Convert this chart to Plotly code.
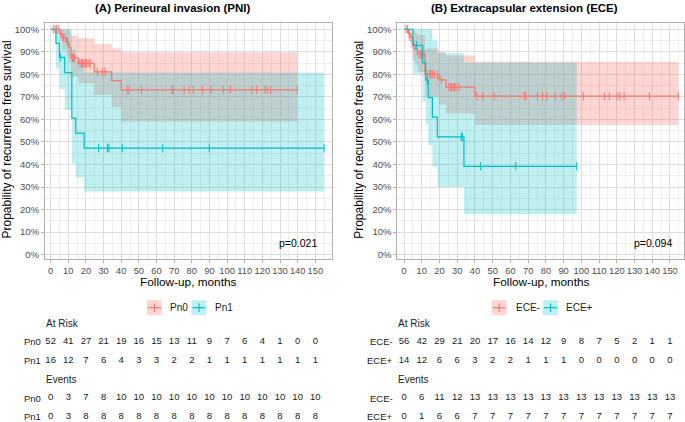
import plotly.graph_objects as go

W, H = 685, 422
FONT = "Liberation Sans, Arial, sans-serif"
RED, CYAN = "#F8766D", "#00BFC4"
RED_FILL, CYAN_FILL = "rgba(248,118,109,0.30)", "rgba(0,191,196,0.25)"

# ---------------- Panel A : PNI ----------------
pn0_time = [0, 5.3, 6.6, 9.1, 10.4, 11.5, 15.7, 24.7, 34.6, 40.0]
pn0_surv = [1.0, 0.981, 0.962, 0.942, 0.919, 0.873, 0.849, 0.811, 0.772, 0.731]
pn0_upper = [1.0, 1.0, 1.0, 1.0, 0.99, 0.97, 0.96, 0.935, 0.915, 0.898]
pn0_lower = [1.0, 0.945, 0.91, 0.88, 0.85, 0.79, 0.76, 0.71, 0.655, 0.59]
pn0_end = 139.8
pn0_cens_t = [1.5, 2.5, 3.4, 4.3, 5.8, 7.2, 8.3, 9.6, 12.2, 12.6, 13.0, 13.8,
              16.6, 17.5, 18.2, 19.0, 19.6, 20.4, 21.7, 22.5, 26.4, 29.3, 30.8,
              43.3, 44.4, 51.6, 68.6, 69.5, 75.7, 78.4, 80.8, 86.0, 90.9, 97.8,
              101.8, 114.0, 116.8, 121.5, 122.8, 124.7, 139.8]
pn0_cens_s = [1.0, 1.0, 1.0, 1.0, 0.981, 0.962, 0.962, 0.942, 0.873, 0.873, 0.873, 0.873,
              0.849, 0.849, 0.849, 0.849, 0.849, 0.849, 0.849, 0.849, 0.811, 0.811, 0.811,
              0.731, 0.731, 0.731, 0.731, 0.731, 0.731, 0.731, 0.731, 0.731, 0.731, 0.731,
              0.731, 0.731, 0.731, 0.731, 0.731, 0.731, 0.731]

pn1_time = [0, 3.0, 5.0, 8.0, 12.0, 14.2, 19.0]
pn1_surv = [1.0, 0.9375, 0.875, 0.808, 0.606, 0.539, 0.473]
pn1_upper = [1.0, 1.0, 1.0, 1.0, 0.91, 0.86, 0.808]
pn1_lower = [1.0, 0.826, 0.734, 0.642, 0.405, 0.342, 0.28]
pn1_end = 155.0
pn1_cens_t = [5.5, 27.2, 32.2, 33.1, 40.6, 63.5, 89.9, 155.0]
pn1_cens_s = [0.875, 0.473, 0.473, 0.473, 0.473, 0.473, 0.473, 0.473]

# ---------------- Panel B : ECE ----------------
ecen_time = [0, 2.4, 3.4, 4.9, 6.2, 7.5, 11.8, 19.6, 23.7, 40.0]
ecen_surv = [1.0, 0.982, 0.964, 0.929, 0.911, 0.889, 0.800, 0.775, 0.743, 0.703]
ecen_upper = [1.0, 1.0, 1.0, 0.995, 0.985, 0.975, 0.915, 0.90, 0.883, 0.856]
ecen_lower = [1.0, 0.947, 0.915, 0.86, 0.842, 0.81, 0.70, 0.666, 0.626, 0.575]
ecen_end = 154.7
ecen_cens_t = [1.1, 2.0, 2.9, 3.9, 5.5, 8.5, 9.4, 9.8, 10.3, 11.3, 13.2, 14.5, 15.3, 16.2,
               17.1, 18.8, 21.0, 25.2, 26.3, 26.8, 27.8, 28.5, 29.3, 31.0,
               41.0, 44.4, 50.8, 67.9, 68.8, 75.2, 78.2, 80.5, 85.2, 88.9, 90.5,
               101.1, 113.0, 115.8, 120.3, 121.8, 124.1, 138.4, 154.7]
ecen_cens_s = [1.0, 1.0, 0.982, 0.964, 0.929, 0.889, 0.889, 0.889, 0.889, 0.889, 0.80, 0.80, 0.80, 0.80,
               0.80, 0.80, 0.775, 0.743, 0.743, 0.743, 0.743, 0.743, 0.743, 0.743,
               0.703, 0.703, 0.703, 0.703, 0.703, 0.703, 0.703, 0.703, 0.703, 0.703, 0.703,
               0.703, 0.703, 0.703, 0.703, 0.703, 0.703, 0.703, 0.703]

ecep_time = [0, 5.0, 10.5, 12.2, 13.7, 16.0, 18.8, 33.8]
ecep_surv = [1.0, 0.929, 0.851, 0.774, 0.697, 0.610, 0.523, 0.392]
ecep_upper = [1.0, 1.0, 1.0, 1.0, 1.0, 0.95, 0.893, 0.853]
ecep_lower = [1.0, 0.80, 0.68, 0.578, 0.487, 0.39, 0.30, 0.18]
ecep_end = 97.4
ecep_cens_t = [7.1, 13.2, 32.2, 32.9, 43.2, 63.0, 97.4]
ecep_cens_s = [0.929, 0.774, 0.523, 0.523, 0.392, 0.392, 0.392]

# ---------------- Risk tables ----------------
table_times = [0, 10, 20, 30, 40, 50, 60, 70, 80, 90, 100, 110, 120, 130, 140, 150]
pn0_risk = [52, 41, 27, 21, 19, 16, 15, 13, 11, 9, 7, 6, 4, 1, 0, 0]
pn1_risk = [16, 12, 7, 6, 4, 3, 3, 2, 2, 1, 1, 1, 1, 1, 1, 1]
pn0_events = [0, 3, 7, 8, 10, 10, 10, 10, 10, 10, 10, 10, 10, 10, 10, 10]
pn1_events = [0, 3, 8, 8, 8, 8, 8, 8, 8, 8, 8, 8, 8, 8, 8, 8]
ecen_risk = [56, 42, 29, 21, 20, 17, 16, 14, 12, 9, 8, 7, 5, 2, 1, 1]
ecep_risk = [14, 12, 6, 6, 3, 2, 2, 1, 1, 1, 0, 0, 0, 0, 0, 0]
ecen_events = [0, 6, 11, 12, 13, 13, 13, 13, 13, 13, 13, 13, 13, 13, 13, 13]
ecep_events = [0, 1, 6, 6, 7, 7, 7, 7, 7, 7, 7, 7, 7, 7, 7, 7]

x_ticks = [0, 10, 20, 30, 40, 50, 60, 70, 80, 90, 100, 110, 120, 130, 140, 150]
y_ticks = [0, 0.1, 0.2, 0.3, 0.4, 0.5, 0.6, 0.7, 0.8, 0.9, 1.0]

panels = [
    dict(xa="x", ya="y", tx="x3", ty="y3", off=0.0,
         title="<b>(A) Perineural invasion (PNI)</b>", pval="p=0.021",
         groups=[("Pn0", pn0_time, pn0_surv, pn0_upper, pn0_lower, pn0_end, pn0_cens_t, pn0_cens_s, pn0_risk, pn0_events, RED, RED_FILL),
                 ("Pn1", pn1_time, pn1_surv, pn1_upper, pn1_lower, pn1_end, pn1_cens_t, pn1_cens_s, pn1_risk, pn1_events, CYAN, CYAN_FILL)],
         xrange=[-3.2, 159.3], dom=[45, 331.7],
         legend=[147, 168, 191.5, 213]),
    dict(xa="x2", ya="y2", tx="x4", ty="y4", off=352.3,
         title="<b>(B) Extracapsular extension (ECE)</b>", pval="p=0.094",
         groups=[("ECE-", ecen_time, ecen_surv, ecen_upper, ecen_lower, ecen_end, ecen_cens_t, ecen_cens_s, ecen_risk, ecen_events, RED, RED_FILL),
                 ("ECE+", ecep_time, ecep_surv, ecep_upper, ecep_lower, ecep_end, ecep_cens_t, ecep_cens_s, ecep_risk, ecep_events, CYAN, CYAN_FILL)],
         xrange=[-3.8, 157.9], dom=[397.3, 684.0],
         legend=[491.7, 514, 543, 564]),
]

fig = go.Figure()
annotations, shapes = [], []

def px_x(p):
    return p / W

def px_y(p):
    return (H - p) / H

# table rows: row index r -> pixel 323.3 + r*18.68
ROW0, ROWH = 323.3, 18.68
TBL_TOP, TBL_BOT = 317.0, 422.0
tbl_range = [(TBL_BOT - ROW0) / ROWH, (TBL_TOP - ROW0) / ROWH]

layout_axes = {}
for P in panels:
    xa, ya = P["xa"], P["ya"]
    # bands
    for g in P["groups"]:
        name, t, s, up, lo, end, ct, cs, rk, ev, col, fill = g
        fig.add_trace(go.Scatter(x=t + [end], y=up + [up[-1]], xaxis=xa, yaxis=ya, mode="lines",
                                 line=dict(width=0, shape="hv", color=fill), showlegend=False, hoverinfo="skip"))
        fig.add_trace(go.Scatter(x=t + [end], y=lo + [lo[-1]], xaxis=xa, yaxis=ya, mode="lines",
                                 line=dict(width=0, shape="hv", color=fill), fill="tonexty", fillcolor=fill,
                                 showlegend=False, hoverinfo="skip"))
    for g in P["groups"]:
        name, t, s, up, lo, end, ct, cs, rk, ev, col, fill = g
        fig.add_trace(go.Scatter(x=t + [end], y=s + [s[-1]], xaxis=xa, yaxis=ya, mode="lines",
                                 line=dict(width=1.2, shape="hv", color=col), showlegend=False))
        fig.add_trace(go.Scatter(x=ct, y=cs, xaxis=xa, yaxis=ya, mode="markers",
                                 marker=dict(symbol="line-ns", size=6, line=dict(width=1.0, color=col), color=col),
                                 showlegend=False))
    # tables
    for i, g in enumerate(P["groups"]):
        name, t, s, up, lo, end, ct, cs, rk, ev, col, fill = g
        fig.add_trace(go.Scatter(x=table_times, y=[1 + i] * len(table_times), text=[str(v) for v in rk],
                                 mode="text", textfont=dict(size=9.5, color="#1a1a1a", family=FONT),
                                 xaxis=P["tx"], yaxis=P["ty"], showlegend=False, cliponaxis=False))
        fig.add_trace(go.Scatter(x=table_times, y=[4 + i] * len(table_times), text=[str(v) for v in ev],
                                 mode="text", textfont=dict(size=9.5, color="#1a1a1a", family=FONT),
                                 xaxis=P["tx"], yaxis=P["ty"], showlegend=False, cliponaxis=False))
        for r in (1 + i, 4 + i):
            annotations.append(dict(text=name, xref="paper", yref=P["ty"], x=px_x(P["dom"][0] - 2.5), y=r,
                                    xanchor="right", yanchor="middle", showarrow=False,
                                    font=dict(size=9.5, color="#1a1a1a", family=FONT)))
    for r, lab in ((0, "At Risk"), (3, "Events")):
        annotations.append(dict(text=lab, xref="paper", yref=P["ty"], x=px_x(P["dom"][0] - 1), y=r,
                                xanchor="left", yanchor="middle", showarrow=False,
                                font=dict(size=10, color="#1a1a1a", family=FONT)))

    dom = [P["dom"][0] / W, P["dom"][1] / W]
    ydom = [px_y(259.0), px_y(22.7)]
    common_x = dict(domain=dom, range=P["xrange"], tickmode="array", tickvals=x_ticks, tickangle=0,
                    showgrid=True, gridcolor="#DEDEDE", gridwidth=1, zeroline=False,
                    showline=True, linecolor="#B0B0B0", linewidth=1, mirror=True,
                    ticks="outside", ticklen=3, tickcolor="#B0B0B0",
                    tickfont=dict(size=9.3, color="#4D4D4D", family=FONT),
                    minor=dict(tickmode="linear", tick0=5, dtick=10, showgrid=True, gridcolor="#EFEFEF", gridwidth=1),
                    automargin=False)
    common_y = dict(domain=ydom, range=[-0.019, 1.029], tickmode="array", tickvals=y_ticks,
                    tickformat=".0%", showgrid=True, gridcolor="#DEDEDE", gridwidth=1, zeroline=False,
                    showline=True, linecolor="#B0B0B0", linewidth=1, mirror=True,
                    ticks="outside", ticklen=3, tickcolor="#B0B0B0",
                    tickfont=dict(size=9.5, color="#4D4D4D", family=FONT),
                    minor=dict(tickmode="linear", tick0=0.05, dtick=0.1, showgrid=True, gridcolor="#EFEFEF", gridwidth=1),
                    automargin=False)
    xkey = "xaxis" if xa == "x" else "xaxis" + xa[1:]
    ykey = "yaxis" if ya == "y" else "yaxis" + ya[1:]
    layout_axes[xkey] = dict(common_x, anchor=ya)
    layout_axes[ykey] = dict(common_y, anchor=xa)
    layout_axes["xaxis" + P["tx"][1:]] = dict(domain=dom, range=P["xrange"], visible=False, anchor=P["ty"])
    layout_axes["yaxis" + P["ty"][1:]] = dict(domain=[0, px_y(TBL_TOP)], range=tbl_range, visible=False, anchor=P["tx"])

    off = P["off"]
    annotations.append(dict(text=P["title"], xref="paper", yref="paper", x=px_x(172.5 + off), y=px_y(8.0),
                            xanchor="center", yanchor="middle", showarrow=False,
                            font=dict(size=11.5, color="#000000", family=FONT)))
    annotations.append(dict(text="Propability of recurrence free survival", xref="paper", yref="paper",
                            x=px_x(6.5 + off), y=px_y(140.0), textangle=-90, xanchor="center", yanchor="middle",
                            showarrow=False, font=dict(size=12, color="#000000", family=FONT)))
    annotations.append(dict(text="Follow-up, months", xref="paper", yref="paper",
                            x=px_x((P["dom"][0] + P["dom"][1]) / 2), y=px_y(281.5), xanchor="center", yanchor="middle",
                            showarrow=False, font=dict(size=11.8, color="#000000", family=FONT)))
    annotations.append(dict(text=P["pval"], xref=xa, yref=ya, x=128.5, y=0.05, xanchor="left", yanchor="middle",
                            showarrow=False, font=dict(size=10.5, color="#000000", family=FONT)))
    # legend
    lg = P["legend"]
    for k, g in enumerate(P["groups"]):
        name, col, fill = g[0], g[10], g[11]
        kx = lg[2 * k]
        tx = lg[2 * k + 1]
        y0, y1 = 300.2, 315.2
        shapes.append(dict(type="rect", xref="paper", yref="paper", x0=px_x(kx), x1=px_x(kx + 15),
                           y0=px_y(y1), y1=px_y(y0), fillcolor=fill, line=dict(width=0)))
        shapes.append(dict(type="line", xref="paper", yref="paper", x0=px_x(kx + 1), x1=px_x(kx + 14),
                           y0=px_y(307.7), y1=px_y(307.7), line=dict(color=col, width=1.2)))
        shapes.append(dict(type="line", xref="paper", yref="paper", x0=px_x(kx + 7.5), x1=px_x(kx + 7.5),
                           y0=px_y(303.5), y1=px_y(312), line=dict(color=col, width=1.2)))
        annotations.append(dict(text=name, xref="paper", yref="paper", x=px_x(tx), y=px_y(307.7),
                                xanchor="left", yanchor="middle", showarrow=False,
                                font=dict(size=10, color="#1a1a1a", family=FONT)))

fig.update_layout(width=W, height=H, margin=dict(l=0, r=0, t=0, b=0),
                  paper_bgcolor="white", plot_bgcolor="rgba(0,0,0,0)",
                  font=dict(family=FONT), showlegend=False,
                  annotations=annotations, shapes=shapes, **layout_axes)

fig.write_html("out.html")
